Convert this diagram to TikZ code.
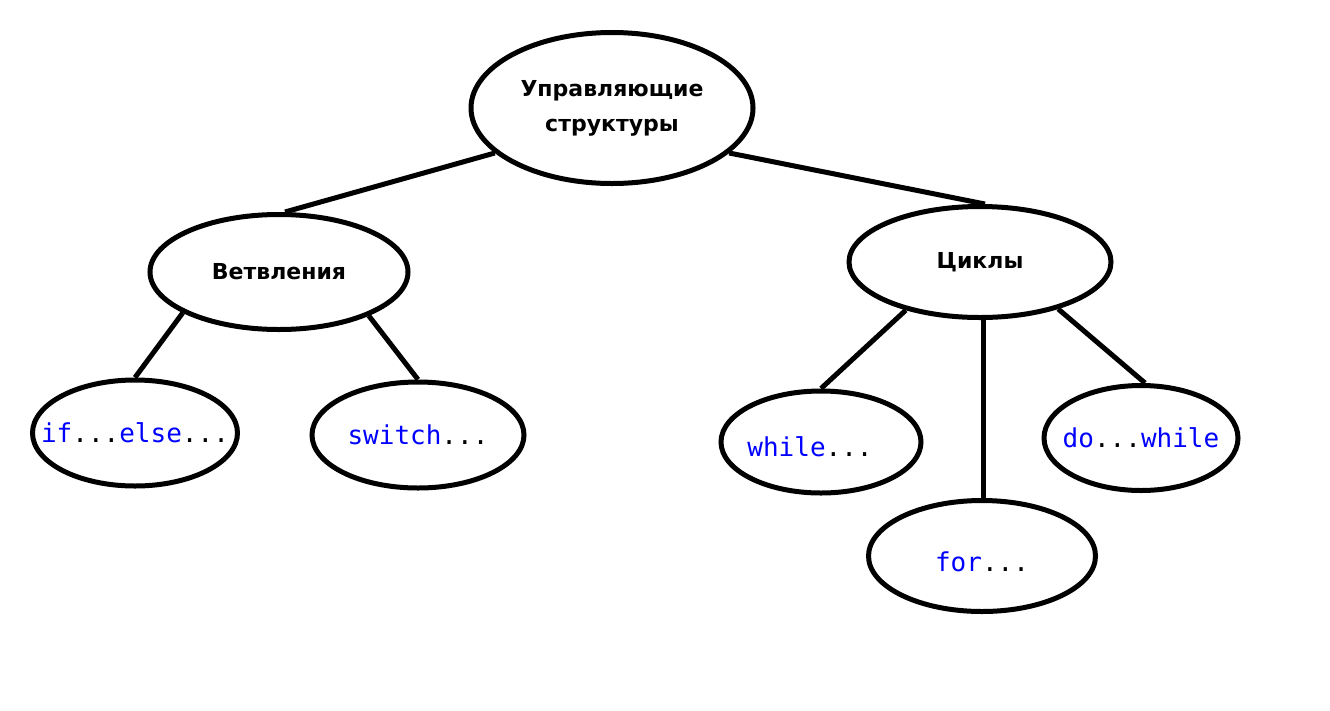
\documentclass[tikz,border=0pt]{standalone}
\usepackage{fontspec}
\setmainfont{DejaVu Sans}
\setmonofont{DejaVu Sans Mono}
\usetikzlibrary{shapes.geometric}
\definecolor{kwblue}{RGB}{0,0,255}
\newcommand{\kw}[1]{\textcolor{kwblue}{#1}}

\begin{document}
\begin{tikzpicture}[
    x=1pt, y=-1pt,
    oval/.style={draw, ellipse, line width=5pt, inner sep=0pt},
    head/.style={font=\fontsize{22}{35}\selectfont\bfseries, align=center},
    code/.style={font=\fontsize{26}{30}\selectfont\ttfamily},
    link/.style={line width=5pt}
]
\useasboundingbox (0,0) rectangle (1330,710);

\node[oval, minimum width=282, minimum height=151,
      label={[head]center:Управляющие\\структуры}] (root) at (612,108) {};
\node[oval, minimum width=258, minimum height=115,
      label={[head]center:Ветвления}] (branch) at (279,272) {};
\node[oval, minimum width=262, minimum height=111,
      label={[head]center:Циклы}] (loops) at (980,262) {};

\node[oval, minimum width=205, minimum height=106,
      label={[code]center:\kw{if}...\kw{else}...}] (ifelse) at (135,433) {};
\node[oval, minimum width=212, minimum height=106,
      label={[code]center:\kw{switch}...}] (switch) at (418,435) {};
\node[oval, minimum width=200, minimum height=102,
      label={[code, xshift=-11pt, yshift=-5pt]center:\kw{while}...}] (while) at (821,442) {};
\node[oval, minimum width=194, minimum height=105,
      label={[code]center:\kw{do}...\kw{while}}] (dowhile) at (1141,438) {};
\node[oval, minimum width=227, minimum height=111,
      label={[code, yshift=-6pt]center:\kw{for}...}] (for) at (982,556) {};

\draw[link] (root.201) -- ([xshift=6pt]branch.north);
\draw[link] (root.339) -- ([xshift=5pt]loops.north);
\draw[link] (branch.203) -- (ifelse.north);
\draw[link] (branch.334) -- (switch.north);
\draw[link] (loops.213) -- (while.north);
\draw[link] ([xshift=3pt]loops.south) -- ([xshift=1pt]for.north);
\draw[link] (loops.329) -- ([xshift=4pt]dowhile.north);
\end{tikzpicture}
\end{document}
